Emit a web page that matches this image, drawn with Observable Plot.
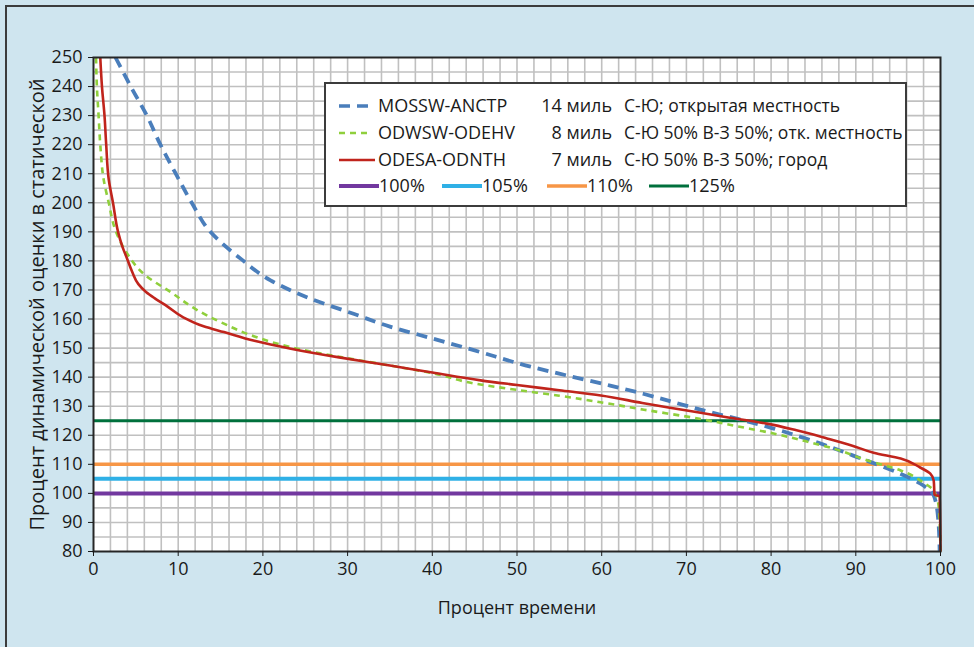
<!DOCTYPE html>
<html><head><meta charset="utf-8">
<script src="https://cdn.jsdelivr.net/npm/d3@7"></script>
<script src="https://cdn.jsdelivr.net/npm/@observablehq/plot@0.6"></script>
<style>
html,body{margin:0;padding:0;background:#cfe5ef;}
#wrap{position:relative;width:974px;height:647px;overflow:hidden;font-family:"Open Sans",sans-serif;color:#1a1a1a;}
#border{position:absolute;left:5px;top:5px;width:1000px;height:700px;border-left:2px solid #3c3c3c;border-top:2px solid #3c3c3c;}
#chart{position:absolute;left:0;top:0;}
#legend{position:absolute;left:324px;top:82px;width:579px;height:121px;background:#fff;border:2px solid #3c3c3c;font-size:18px;}
#legend .it{position:absolute;white-space:nowrap;line-height:20px;}
#legend .desc{font-size:17.5px;}
#legend svg{position:absolute;}
</style></head><body>
<div id="wrap"><div id="border"></div><div id="chart"></div><div id="legend"></div></div>
<script>
// MOSSW-ANCTP (14 миль)
const xMOSSW = [2.6,4.4,6.3,7.9,9.9,11.6,13.8,17.4,20.9,25.6,30.7,35,40,45,51.6,56,61,65,69.7,73,76.4,80.3,85.5,89.7,92,94.9,97.6,99.2,99.7,99.9];
const yMOSSW = [250,240,230,220,209,200,190,180.7,173.3,167,161.8,157.4,153.3,149.2,143.6,140.5,137.1,134.2,130.4,127.8,125.4,122.3,117.5,113,110.5,107.2,103.4,99.3,92,80];
// ODWSW-ODEHV (8 миль)
const xODWSW = [0.3,0.4,0.6,0.8,1.2,1.8,2.6,4.0,5.9,9.4,12,15.4,19,23.3,29.2,35,40,45,50,55,60,65,71.7,76,80.3,84,87.4,91.4,95.3,98,99.2,99.8,100];
const yODWSW = [250,240,230,220,208,200,190.5,182.4,175.6,168.7,163.5,158.4,154,150.3,146.9,144,141.4,137.8,135.6,133.6,131.3,128.8,125.6,123.1,120.6,118,115.4,111.3,107.9,103.7,101,95,80];
// ODESA-ODNTH (7 миль)
const xODESA = [0.8,1.0,1.3,1.5,1.8,2.3,2.9,3.4,4,4.6,5.3,6.2,7.2,8.5,10.6,13,15.4,19,23.3,29,35,40,45.7,50,55,59.9,64.8,69.7,74.6,79.5,83,86.6,89.5,92.1,95.3,97.6,98.8,99.2,99.3,99.9,100];
const yODESA = [250,240,230,220,208,200,190,185,180.5,176,172,169.3,167.2,164.8,160.6,157.5,155.5,152.5,149.8,146.8,144,141.6,138.9,137.3,135.5,133.7,131.1,128.7,126.3,124,121.7,118.9,116.5,114,112,108.9,106.8,104.4,99.5,99,80];

const seriesNames = ["MOSSW-ANCTP","ODWSW-ODEHV","ODESA-ODNTH"];
const seriesDist = ["14 миль","8 миль","7 миль"];
const seriesDesc = ["С-Ю; открытая местность","С-Ю 50% В-З 50%; отк. местность","С-Ю 50% В-З 50%; город"];
const seriesColors = ["#4a7ebb","#8fcf3c","#c0241c"];
const seriesDash = ["11,7","6,5",null];
const seriesWidth = [3.8,2.6,2.6];

const refLevels = [100,105,110,125];
const refLabels = ["100%","105%","110%","125%"];
const refColors = ["#72389f","#2fb0e6","#f79646","#00703c"];
const refWidth = [4,4,3.6,3];

const xTitle = "Процент времени";
const yTitle = "Процент динамической оценки в статической";
const xTicks = d3.range(0,101,10);
const yTicks = d3.range(80,251,10);
const xGrid = d3.range(2,100,2);
const yGrid = d3.range(85,250,5);

const series = [[xMOSSW,yMOSSW],[xODWSW,yODWSW],[xODESA,yODESA]].map(([xs,ys],i)=>xs.map((x,j)=>({x,y:ys[j],s:i})));
const refs = refLevels.map((v,i)=>({v,i}));

const chart = Plot.plot({
  width:974, height:647,
  marginLeft:93, marginRight:34, marginTop:57, marginBottom:96,
  style:{background:"transparent", fontFamily:"'Open Sans',sans-serif", fontSize:"18px", color:"#1a1a1a"},
  x:{domain:[0,100]},
  y:{domain:[80,250]},
  marks:[
    Plot.frame({fill:"white"}),
    Plot.ruleX(xGrid,{stroke:"#c0c0c0",strokeWidth:1.6}),
    Plot.ruleY(yGrid,{stroke:"#c0c0c0",strokeWidth:1.6}),
    ...refs.map(r=>Plot.ruleY([r.v],{stroke:refColors[r.i],strokeWidth:refWidth[r.i]})),
    ...series.map((d,i)=>Plot.line(d,{x:"x",y:"y",stroke:seriesColors[i],strokeWidth:seriesWidth[i],strokeDasharray:seriesDash[i]??undefined,strokeLinecap:"butt",curve:"monotone-y"})),
    Plot.frame({stroke:"#262626",strokeWidth:2}),
    Plot.axisX({ticks:xTicks,tickSize:5,tickPadding:6,tickFormat:d=>String(d),label:xTitle,labelAnchor:"center",labelArrow:"none",labelOffset:62,stroke:"#1a1a1a"}),
    Plot.axisY({ticks:yTicks,tickSize:5,tickPadding:6,tickFormat:d=>String(d),label:null,stroke:"#1a1a1a"}),
    Plot.text([yTitle],{text:d=>d,frameAnchor:"left",textAnchor:"middle",rotate:-90,dx:-56,fontSize:20,fill:"#1a1a1a"})
  ]
});
document.getElementById("chart").appendChild(chart);

// Legend
const lg = document.getElementById("legend");
const rowY = [22,49,76,102];
function sample(left,top,w,color,width,dash){
  const s=document.createElementNS("http://www.w3.org/2000/svg","svg");
  s.setAttribute("width",w); s.setAttribute("height",10);
  s.style.left=left+"px"; s.style.top=(top-5)+"px";
  const l=document.createElementNS("http://www.w3.org/2000/svg","line");
  l.setAttribute("x1",0);l.setAttribute("x2",w);l.setAttribute("y1",5);l.setAttribute("y2",5);
  l.setAttribute("stroke",color);l.setAttribute("stroke-width",width);
  if(dash) l.setAttribute("stroke-dasharray",dash);
  s.appendChild(l); lg.appendChild(s);
}
function label(text,left,top,align,cls){
  const d=document.createElement("div"); d.className="it"+(cls?" "+cls:""); d.textContent=text;
  d.style.top=(top-11)+"px";
  if(align==="right"){d.style.right=(579-left)+"px";} else d.style.left=left+"px";
  lg.appendChild(d);
}
seriesNames.forEach((n,i)=>{
  sample(13,rowY[i],i===2?36:30,seriesColors[i],i===0?3.6:2.6,seriesDash[i]);
  label(n,52,rowY[i]);
  label(seriesDist[i],286,rowY[i],"right");
  label(seriesDesc[i],298,rowY[i],null,"desc");
});
const refLeft=[13,116,221,323];
refLabels.forEach((t,i)=>{
  sample(refLeft[i],rowY[3],40,refColors[i],refWidth[i]);
  label(t,refLeft[i]+40,rowY[3]);
});
</script>
</body></html>
